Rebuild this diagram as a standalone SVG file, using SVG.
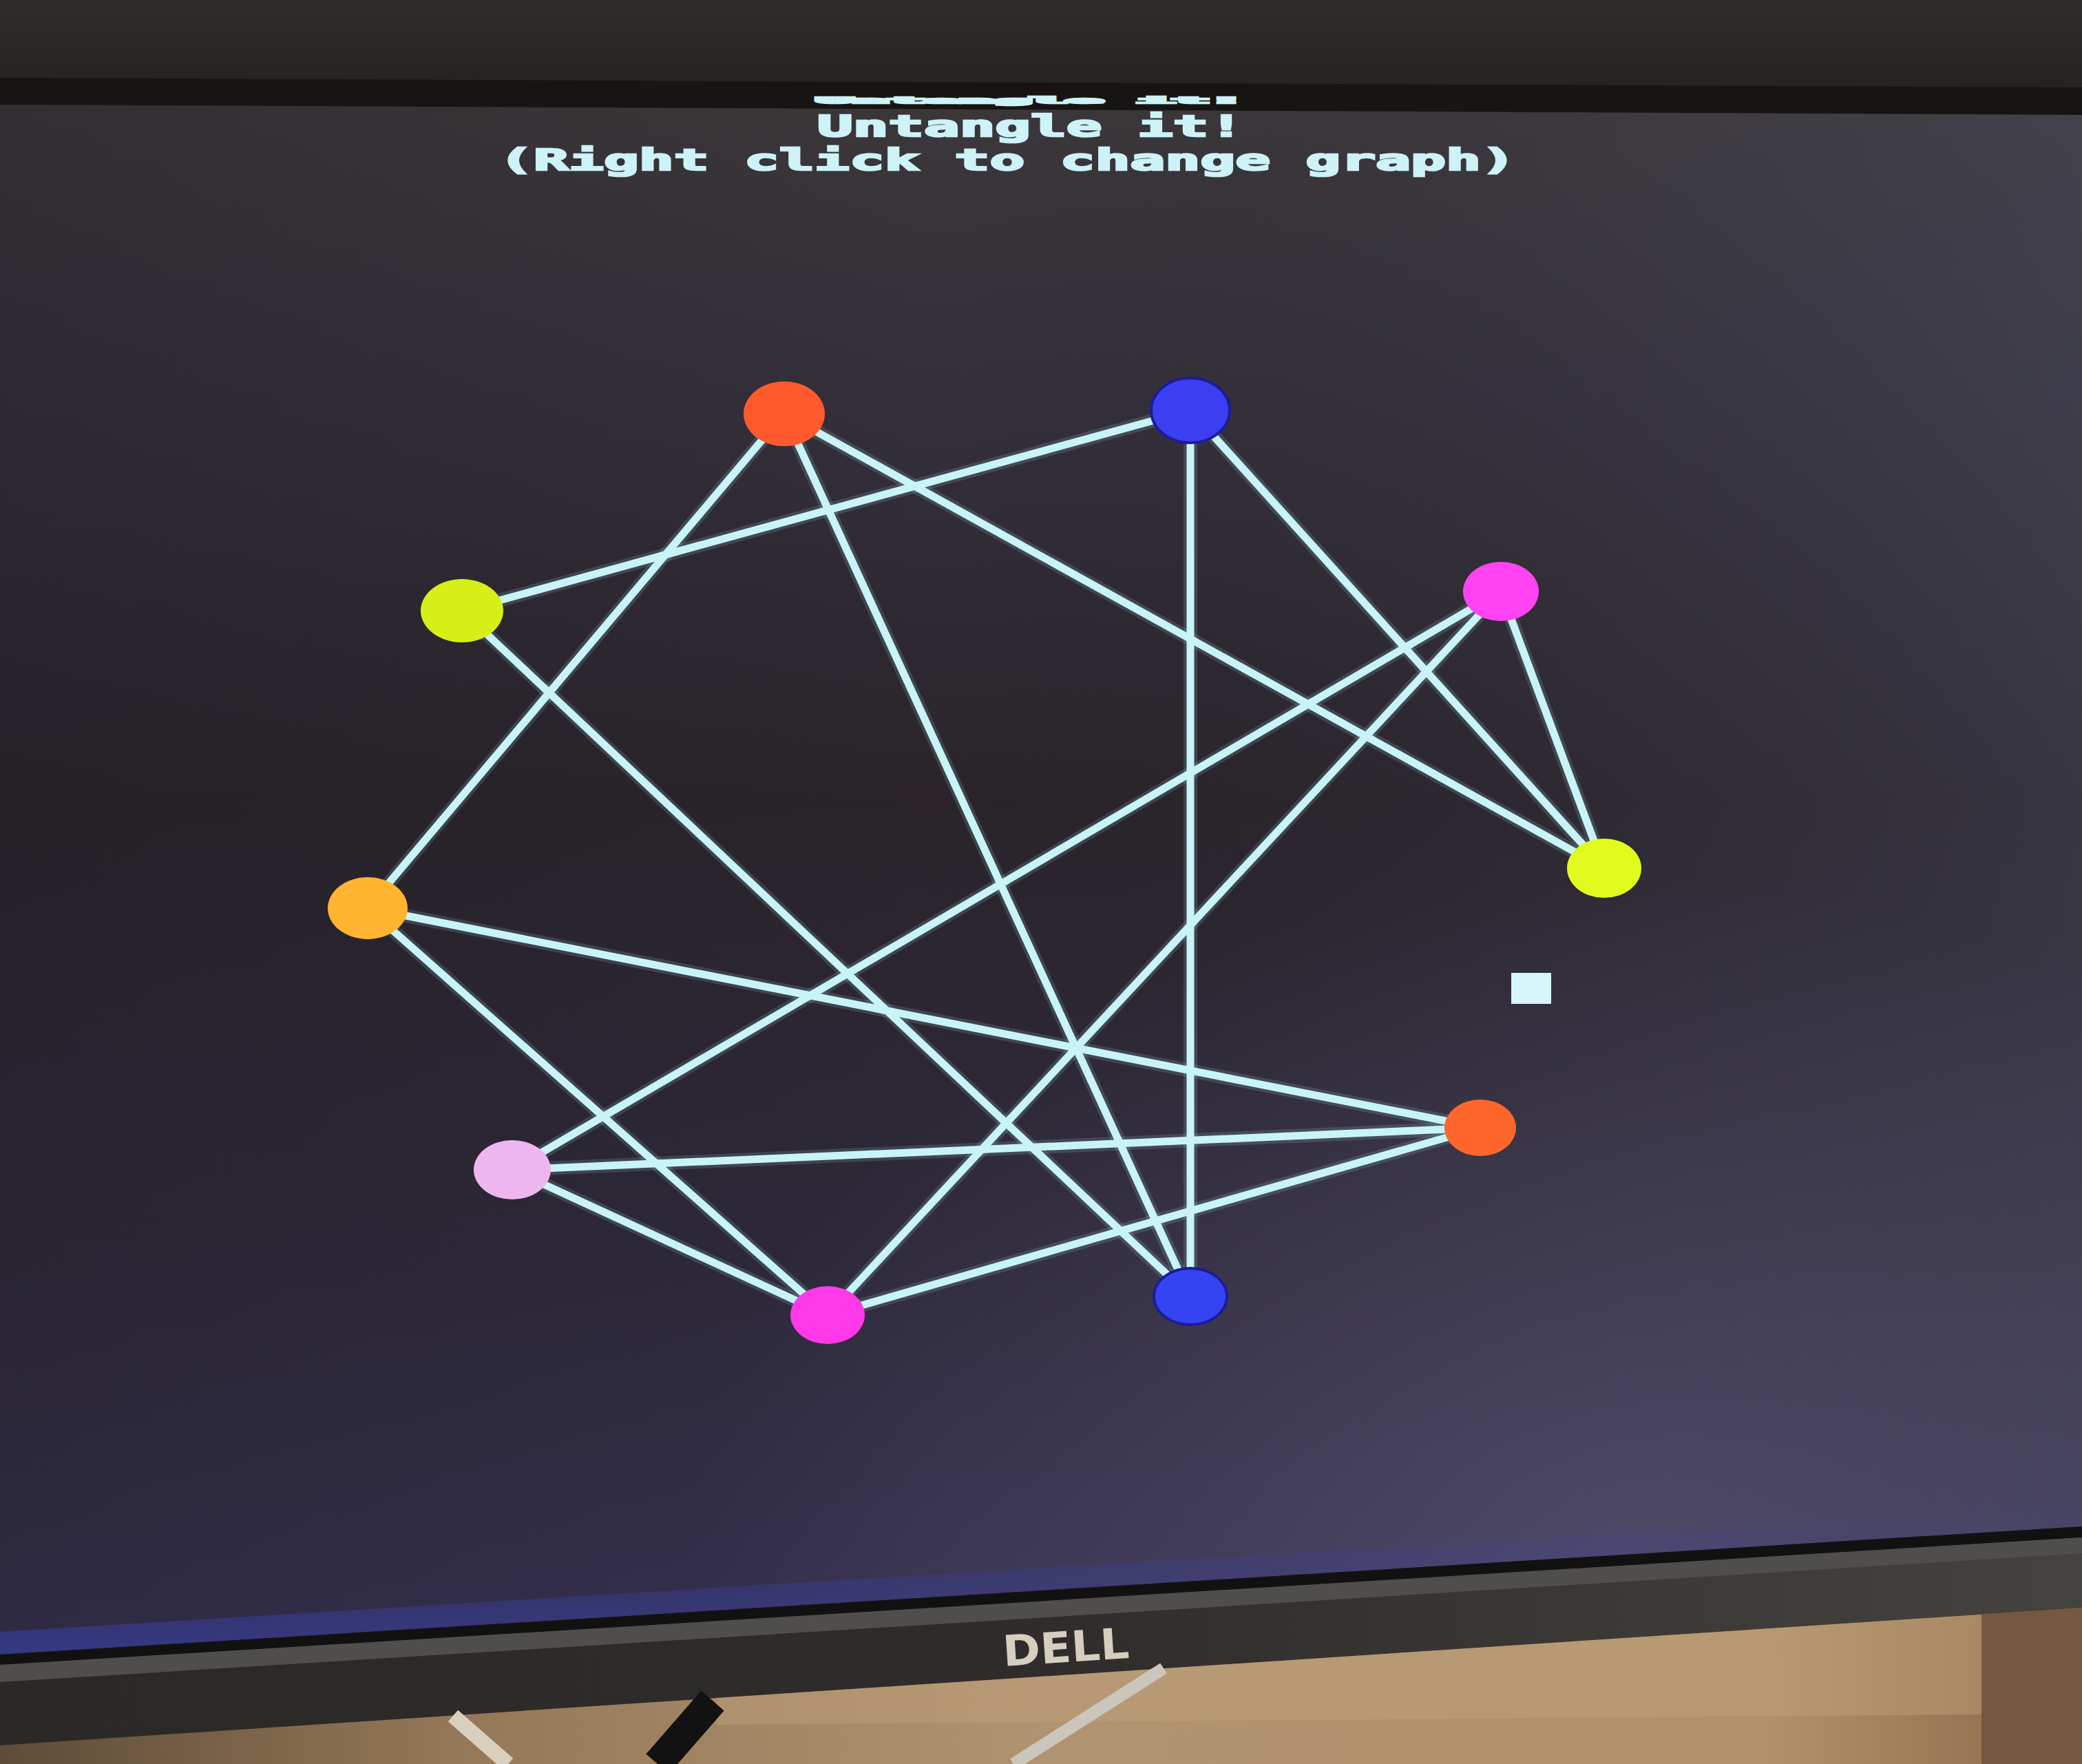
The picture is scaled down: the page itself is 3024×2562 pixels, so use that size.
<svg xmlns="http://www.w3.org/2000/svg" width="3024" height="2562" viewBox="0 0 3024 2562">
  <style>
    .edge { stroke: #c8f4f8; stroke-width: 11; stroke-linecap: butt; fill: none; }
    .glow { stroke: #9fe0ee; stroke-width: 20; stroke-opacity: 0.16; fill: none; }
    .title { font-family: "DejaVu Sans Mono", "Liberation Mono", monospace; font-weight: bold; fill: #cdf2f8; stroke: #cdf2f8; stroke-width: 2.5; }
    .node-blue { stroke: #1c1c9a; stroke-width: 4; }
    .logo { font-family: "DejaVu Sans", "Liberation Sans", sans-serif; font-weight: bold; fill: #d6cebf; }
  </style>
  <defs>
    <linearGradient id="topBand" x1="0" y1="0" x2="0" y2="1">
      <stop offset="0" stop-color="#302c29"/>
      <stop offset="1" stop-color="#25221f"/>
    </linearGradient>
    <linearGradient id="screenV" x1="0" y1="0" x2="0" y2="1">
      <stop offset="0" stop-color="#3b3739"/>
      <stop offset="0.18" stop-color="#34303a"/>
      <stop offset="0.45" stop-color="#2a242a"/>
      <stop offset="0.75" stop-color="#2e293a"/>
      <stop offset="1" stop-color="#363252"/>
    </linearGradient>
    <linearGradient id="screenH" x1="0" y1="0" x2="1" y2="0">
      <stop offset="0" stop-color="#1e1a22" stop-opacity="0.3"/>
      <stop offset="0.45" stop-color="#1e1a22" stop-opacity="0"/>
      <stop offset="0.8" stop-color="#4a4c60" stop-opacity="0.18"/>
      <stop offset="1" stop-color="#545a70" stop-opacity="0.32"/>
    </linearGradient>
    <radialGradient id="bottomGlow" cx="0.78" cy="0.95" r="0.45">
      <stop offset="0" stop-color="#5e5878" stop-opacity="0.6"/>
      <stop offset="1" stop-color="#5e5878" stop-opacity="0"/>
    </radialGradient>
    <linearGradient id="edgeBlue" x1="0" y1="0" x2="0" y2="1">
      <stop offset="0" stop-color="#3a40a8" stop-opacity="0"/>
      <stop offset="1" stop-color="#3a44b8" stop-opacity="0.55"/>
    </linearGradient>
    <linearGradient id="bezel" x1="0" y1="0" x2="1" y2="0">
      <stop offset="0" stop-color="#2b2927"/>
      <stop offset="0.5" stop-color="#2f2d2b"/>
      <stop offset="1" stop-color="#45433f"/>
    </linearGradient>
    <linearGradient id="wood" x1="0" y1="0" x2="1" y2="0">
      <stop offset="0" stop-color="#5e4c38"/>
      <stop offset="0.22" stop-color="#957858"/>
      <stop offset="0.5" stop-color="#b09370"/>
      <stop offset="0.85" stop-color="#b0916a"/>
      <stop offset="1" stop-color="#8a6a48"/>
    </linearGradient>
  </defs>

  <!-- surroundings -->
  <rect x="0" y="0" width="3024" height="2562" fill="#2a2724"/>
  <rect x="0" y="0" width="3024" height="130" fill="url(#topBand)"/>
  <polygon points="0,113 3024,127 3024,167 0,152" fill="#171513"/>

  <!-- screen -->
  <polygon points="0,152 3024,167 3024,2217 0,2403" fill="url(#screenV)"/>
  <polygon points="0,152 3024,167 3024,2217 0,2403" fill="url(#screenH)"/>
  <polygon points="0,152 3024,167 3024,2217 0,2403" fill="url(#bottomGlow)"/>
  <polygon points="0,2370 3024,2184 3024,2217 0,2403" fill="url(#edgeBlue)"/>

  <!-- bezel bottom -->
  <polygon points="0,2403 3024,2217 3024,2335 0,2535" fill="url(#bezel)"/>
  <polygon points="0,2403 3024,2217 3024,2233 0,2418" fill="#121112"/>
  <polygon points="0,2418 3024,2233 3024,2256 0,2443" fill="#504e4b"/>
  <text class="logo" x="1456" y="2414" font-size="62" textLength="184" lengthAdjust="spacingAndGlyphs" transform="rotate(-3.8 1548 2392)">DELL</text>

  <!-- desk / shelf -->
  <polygon points="0,2535 3024,2335 3024,2562 0,2562" fill="url(#wood)"/>
  <polygon points="1040,2466 2878,2345 2878,2490 1040,2505" fill="#c4a67c" opacity="0.4"/>
  <polygon points="2878,2345 3024,2335 3024,2562 2878,2562" fill="#765840"/>
  <line x1="658" y1="2492" x2="738" y2="2562" stroke="#d8cfbf" stroke-width="22"/>
  <line x1="1690" y1="2423" x2="1472" y2="2562" stroke="#cbc6bc" stroke-width="18"/>
  <line x1="1035" y1="2470" x2="955" y2="2562" stroke="#121212" stroke-width="44"/>

  <!-- on-screen text -->
  <g id="title">
    <text class="title" x="1187" y="150" font-size="12" stroke-width="1" textLength="620" lengthAdjust="spacingAndGlyphs">Untangle it!</text>
    <text class="title" x="1187" y="198" font-size="42" textLength="620" lengthAdjust="spacingAndGlyphs">Untangle it!</text>
    <text class="title" x="724" y="247" font-size="42" textLength="1478" lengthAdjust="spacingAndGlyphs">(Right click to change graph)</text>
  </g>

  <!-- connectors -->
  <g id="connectors">
    <g class="glow">
      <line x1="1139" y1="601" x2="534" y2="1319"/>
      <line x1="1139" y1="601" x2="1729" y2="1883"/>
      <line x1="1139" y1="601" x2="2330" y2="1261"/>
      <line x1="1729" y1="596" x2="671" y2="887"/>
      <line x1="1729" y1="596" x2="1729" y2="1883"/>
      <line x1="1729" y1="596" x2="2330" y2="1261"/>
      <line x1="671" y1="887" x2="1729" y2="1883"/>
      <line x1="2180" y1="859" x2="744" y2="1699"/>
      <line x1="2180" y1="859" x2="1202" y2="1910"/>
      <line x1="2180" y1="859" x2="2330" y2="1261"/>
      <line x1="534" y1="1319" x2="2150" y2="1638"/>
      <line x1="534" y1="1319" x2="1202" y2="1910"/>
      <line x1="744" y1="1699" x2="2150" y2="1638"/>
      <line x1="744" y1="1699" x2="1202" y2="1910"/>
      <line x1="2150" y1="1638" x2="1202" y2="1910"/>
    </g>
    <g class="edge">
      <line x1="1139" y1="601" x2="534" y2="1319"/>
      <line x1="1139" y1="601" x2="1729" y2="1883"/>
      <line x1="1139" y1="601" x2="2330" y2="1261"/>
      <line x1="1729" y1="596" x2="671" y2="887"/>
      <line x1="1729" y1="596" x2="1729" y2="1883"/>
      <line x1="1729" y1="596" x2="2330" y2="1261"/>
      <line x1="671" y1="887" x2="1729" y2="1883"/>
      <line x1="2180" y1="859" x2="744" y2="1699"/>
      <line x1="2180" y1="859" x2="1202" y2="1910"/>
      <line x1="2180" y1="859" x2="2330" y2="1261"/>
      <line x1="534" y1="1319" x2="2150" y2="1638"/>
      <line x1="534" y1="1319" x2="1202" y2="1910"/>
      <line x1="744" y1="1699" x2="2150" y2="1638"/>
      <line x1="744" y1="1699" x2="1202" y2="1910"/>
      <line x1="2150" y1="1638" x2="1202" y2="1910"/>
    </g>
  </g>

  <!-- nodes -->
  <g id="node-red-top"><ellipse cx="1139" cy="601" rx="59" ry="47" fill="#ff5a2e"/></g>
  <g id="node-blue-top"><ellipse class="node-blue" cx="1729" cy="596" rx="57" ry="47" fill="#3c3ef2"/></g>
  <g id="node-yellow-left"><ellipse cx="671" cy="887" rx="60" ry="46" fill="#d6ef16"/></g>
  <g id="node-magenta-right"><ellipse cx="2180" cy="859" rx="55" ry="43" fill="#ff42f2"/></g>
  <g id="node-yellow-right"><ellipse cx="2330" cy="1261" rx="54" ry="43" fill="#e2fb1e"/></g>
  <g id="node-orange"><ellipse cx="534" cy="1319" rx="58" ry="45" fill="#ffb432"/></g>
  <g id="node-red-right"><ellipse cx="2150" cy="1638" rx="52" ry="41" fill="#ff662c"/></g>
  <g id="node-pink"><ellipse cx="744" cy="1699" rx="56" ry="43" fill="#eeb6ee"/></g>
  <g id="node-magenta-bottom"><ellipse cx="1202" cy="1910" rx="54" ry="42" fill="#ff38ea"/></g>
  <g id="node-blue-bottom"><ellipse class="node-blue" cx="1729" cy="1883" rx="53" ry="41" fill="#3444f2"/></g>

  <!-- cursor -->
  <g id="cursor"><rect x="2195" y="1413" width="58" height="45" fill="#d6f6fc"/></g>
</svg>
